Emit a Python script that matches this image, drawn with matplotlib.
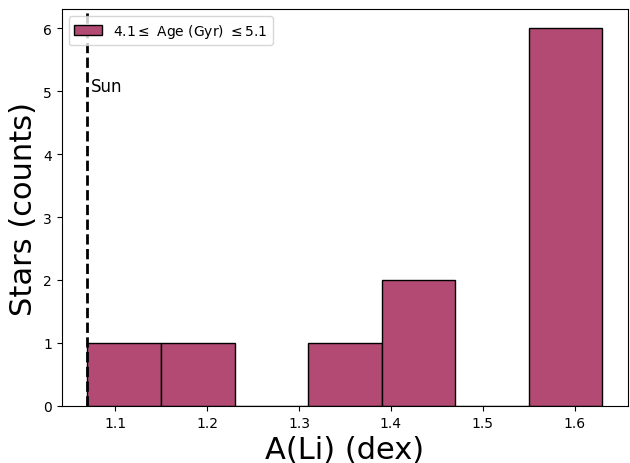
import matplotlib
matplotlib.use("Agg")
import matplotlib.pyplot as plt
import numpy as np

# histogram of A(Li) for the 4.1-5.1 Gyr age bin
bin_edges = [1.07, 1.15, 1.23, 1.31, 1.39, 1.47, 1.55, 1.63]
counts = [1, 1, 0, 1, 2, 0, 6]
sun_ali = 1.07
label = r"4.1$\leq$ Age (Gyr) $\leq$5.1"

fig, ax = plt.subplots(figsize=(6.3, 4.64), dpi=100)
ax.hist(bin_edges[:-1], bins=bin_edges, weights=counts, color="#b34a73",
        edgecolor="black", linewidth=1.0, label=label)
ax.axvline(sun_ali, color="black", linestyle="--", linewidth=2)
ax.text(sun_ali + 0.004, 5.0, "Sun", fontsize=12)

ax.set_xlabel("A(Li) (dex)", fontsize=22)
ax.set_ylabel("Stars (counts)", fontsize=22)
ax.tick_params(labelsize=10)
ax.legend(loc="upper left", fontsize=10)

plt.subplots_adjust(left=0.098, right=0.997, top=0.978, bottom=0.123)
plt.savefig("out.png", dpi=100)
